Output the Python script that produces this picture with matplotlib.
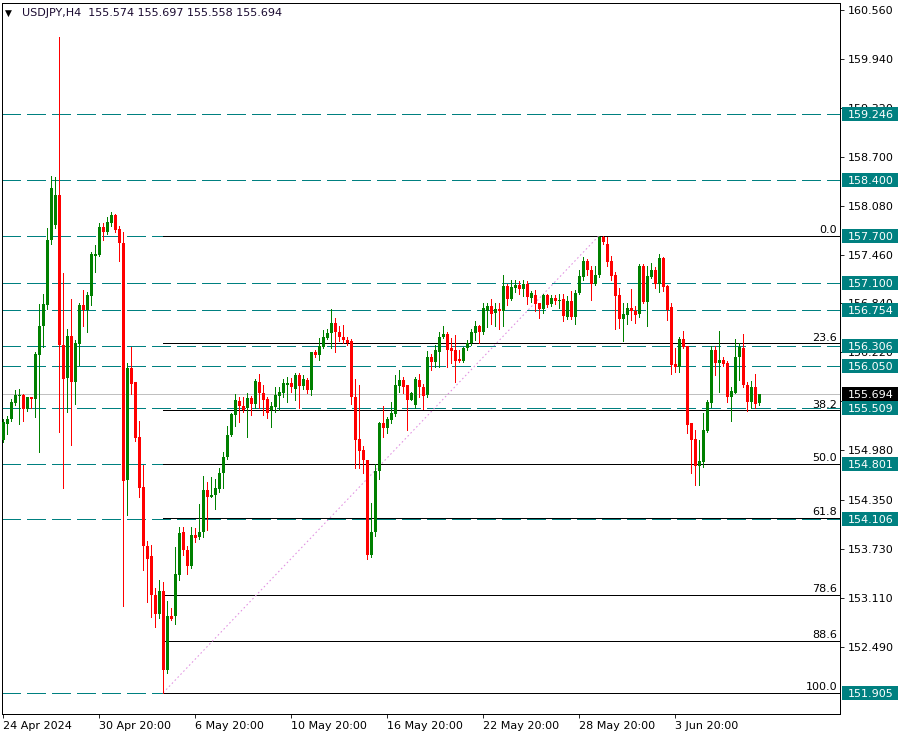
import matplotlib
matplotlib.use("Agg")
import matplotlib.pyplot as plt
from matplotlib.patches import Rectangle
from matplotlib.transforms import IdentityTransform

# --- Data (USDJPY, H4) --------------------------------------------------------

OPEN = [
    155.11, 155.31, 155.37, 155.58, 155.67, 155.68, 155.50, 155.65, 155.63, 156.19,
    156.56, 156.82, 157.64, 157.84, 158.21, 156.31, 155.89, 156.43, 155.84, 156.33,
    156.82, 156.76, 156.94, 157.44, 157.45, 157.81, 157.74, 157.86, 157.96, 157.78,
    157.61, 154.60, 156.02, 155.84, 155.15, 154.51, 153.77, 153.64, 153.14, 152.90,
    153.19, 152.19, 152.88, 152.88, 153.40, 153.94, 153.72, 153.51, 153.90, 153.88,
    153.94, 154.47, 154.39, 154.41, 154.49, 154.69, 154.89, 155.17, 155.43, 155.60,
    155.54, 155.51, 155.64, 155.57, 155.85, 155.70, 155.63, 155.49, 155.53, 155.67,
    155.71, 155.80, 155.83, 155.76, 155.93, 155.79, 155.87, 155.74, 156.22, 156.19,
    156.29, 156.40, 156.46, 156.59, 156.48, 156.41, 156.38, 156.36, 155.65, 155.12,
    154.98, 154.86, 153.65, 153.94, 154.72, 155.32, 155.26, 155.36, 155.44, 155.79,
    155.87, 155.80, 155.62, 155.55, 155.87, 155.78, 155.68, 156.16, 156.10, 156.23,
    156.41, 156.45, 156.27, 156.25, 156.13, 156.11, 156.27, 156.34, 156.46, 156.55,
    156.48, 156.74, 156.81, 156.72, 156.77, 156.75, 157.06, 156.90, 157.03, 157.08,
    157.02, 157.09, 156.91, 156.95, 156.84, 156.77, 156.95, 156.83, 156.91, 156.87,
    156.90, 156.67, 156.87, 156.67, 156.97, 157.17, 157.38, 157.26, 157.09, 157.20,
    157.68, 157.59, 157.38, 157.20, 156.95, 156.64, 156.69, 156.78, 156.75, 156.70,
    157.31, 156.86, 157.18, 157.27, 157.09, 157.41, 157.06, 156.80, 156.07, 156.04,
    156.39, 156.30, 155.32, 155.12, 154.78, 154.83, 155.22, 155.58, 156.25, 156.09,
    156.12, 156.08, 155.65, 155.71, 156.16, 156.28, 155.81, 155.59, 155.78, 155.574,
]
HIGH = [
    155.38, 155.41, 155.63, 155.74, 155.76, 155.69, 155.65, 155.65, 156.23, 156.83,
    156.96, 157.80, 158.46, 158.44, 160.22, 157.23, 156.52, 156.90, 156.38, 156.85,
    157.01, 156.99, 157.49, 157.58, 157.86, 157.86, 157.94, 158.00, 157.97, 157.82,
    157.75, 156.08, 156.29, 155.84, 155.35, 154.79, 153.83, 153.78, 153.23, 153.33,
    153.31, 153.07, 152.98, 153.75, 154.00, 154.00, 153.76, 154.00, 153.99, 154.30,
    154.65, 154.58, 154.64, 154.62, 154.75, 154.96, 155.28, 155.45, 155.69, 155.66,
    155.66, 155.70, 155.67, 155.88, 155.95, 155.81, 155.65, 155.59, 155.78, 155.78,
    155.88, 155.91, 155.89, 155.96, 155.96, 155.93, 155.90, 156.23, 156.25, 156.40,
    156.50, 156.51, 156.77, 156.65, 156.55, 156.57, 156.42, 156.39, 155.88, 155.81,
    155.03, 154.86, 154.31, 154.81, 155.34, 155.54, 155.40, 155.59, 155.93, 155.99,
    155.91, 155.81, 155.72, 155.91, 155.95, 155.82, 156.24, 156.20, 156.31, 156.48,
    156.55, 156.48, 156.40, 156.44, 156.25, 156.29, 156.38, 156.51, 156.62, 156.57,
    156.84, 156.85, 156.90, 156.84, 156.84, 157.20, 157.09, 157.14, 157.14, 157.13,
    157.14, 157.13, 157.00, 157.01, 156.85, 156.96, 156.96, 156.95, 156.95, 156.96,
    156.96, 156.93, 157.00, 157.01, 157.26, 157.43, 157.40, 157.31, 157.31, 157.70,
    157.69, 157.68, 157.44, 157.24, 157.03, 156.84, 156.84, 157.02, 156.81, 157.34,
    157.34, 157.31, 157.35, 157.30, 157.47, 157.43, 157.07, 156.84, 156.28, 156.41,
    156.49, 156.30, 155.32, 155.24, 155.11, 155.45, 155.62, 156.30, 156.30, 156.49,
    156.16, 156.11, 155.78, 156.39, 156.34, 156.45, 155.85, 155.86, 155.94, 155.697,
]
LOW = [
    155.08, 155.19, 155.35, 155.55, 155.31, 155.35, 155.48, 155.51, 155.40, 154.96,
    156.29, 156.77, 157.59, 157.80, 155.21, 154.50, 155.46, 155.05, 155.57, 156.06,
    156.56, 156.48, 156.82, 157.24, 157.44, 157.64, 157.72, 157.82, 157.75, 157.38,
    153.00, 154.16, 155.69, 155.10, 154.39, 153.46, 153.05, 152.87, 152.74, 152.85,
    151.905, 152.15, 152.83, 152.78, 153.33, 153.65, 153.41, 153.48, 153.81, 153.85,
    153.88, 153.97, 154.38, 154.23, 154.45, 154.50, 154.87, 155.16, 155.28, 155.34,
    155.46, 155.15, 155.43, 155.52, 155.51, 155.43, 155.39, 155.27, 155.46, 155.49,
    155.66, 155.59, 155.72, 155.62, 155.51, 155.76, 155.70, 155.68, 156.16, 156.12,
    156.27, 156.39, 156.28, 156.23, 156.36, 156.34, 156.31, 155.57, 154.75, 154.75,
    154.69, 153.60, 153.62, 153.89, 154.61, 155.15, 155.20, 155.33, 155.41, 155.72,
    155.71, 155.24, 155.61, 155.51, 155.66, 155.50, 155.65, 155.99, 156.04, 156.04,
    156.40, 156.03, 156.08, 155.85, 156.10, 156.10, 156.25, 156.31, 156.38, 156.34,
    156.45, 156.54, 156.58, 156.55, 156.52, 156.55, 156.82, 156.88, 156.99, 156.96,
    156.93, 156.83, 156.86, 156.74, 156.66, 156.72, 156.80, 156.81, 156.83, 156.78,
    156.62, 156.64, 156.64, 156.58, 156.96, 157.14, 157.20, 156.88, 157.07, 157.17,
    157.59, 157.31, 157.14, 156.52, 156.53, 156.37, 156.58, 156.63, 156.59, 156.67,
    156.84, 156.55, 157.16, 157.03, 156.99, 157.00, 156.63, 155.94, 155.97, 155.97,
    156.27, 155.20, 154.69, 154.54, 154.54, 154.77, 155.21, 155.53, 155.93, 155.72,
    156.05, 155.59, 155.35, 155.70, 155.87, 155.78, 155.48, 155.51, 155.51, 155.558,
]
CLOSE = [
    155.34, 155.37, 155.59, 155.68, 155.68, 155.50, 155.65, 155.63, 156.20, 156.56,
    156.83, 157.64, 158.30, 158.21, 156.31, 155.88, 156.43, 155.84, 156.34, 156.82,
    156.76, 156.95, 157.47, 157.47, 157.81, 157.74, 157.87, 157.96, 157.77, 157.61,
    154.59, 156.02, 155.82, 155.13, 154.50, 153.77, 153.60, 153.14, 152.90, 153.19,
    152.19, 152.88, 152.84, 153.41, 153.93, 153.72, 153.51, 153.90, 153.87, 153.94,
    154.47, 154.39, 154.41, 154.50, 154.69, 154.89, 155.17, 155.44, 155.62, 155.54,
    155.49, 155.64, 155.57, 155.86, 155.70, 155.62, 155.45, 155.54, 155.68, 155.72,
    155.83, 155.83, 155.78, 155.93, 155.79, 155.88, 155.74, 156.22, 156.19, 156.30,
    156.41, 156.47, 156.59, 156.48, 156.41, 156.38, 156.34, 155.65, 155.11, 154.97,
    154.85, 153.65, 153.94, 154.72, 155.32, 155.26, 155.38, 155.45, 155.81, 155.87,
    155.78, 155.62, 155.71, 155.88, 155.78, 155.67, 156.16, 156.10, 156.25, 156.42,
    156.45, 156.25, 156.24, 156.11, 156.11, 156.28, 156.34, 156.48, 156.55, 156.48,
    156.78, 156.81, 156.71, 156.77, 156.75, 157.06, 156.90, 157.05, 157.08, 157.02,
    157.09, 156.92, 156.97, 156.83, 156.77, 156.95, 156.82, 156.91, 156.87, 156.89,
    156.68, 156.87, 156.67, 156.97, 157.19, 157.38, 157.26, 157.09, 157.20, 157.68,
    157.62, 157.37, 157.19, 156.93, 156.64, 156.71, 156.78, 156.74, 156.69, 157.31,
    156.86, 157.19, 157.27, 157.09, 157.41, 157.05, 156.76, 156.06, 156.03, 156.39,
    156.29, 155.30, 155.11, 154.78, 154.84, 155.24, 155.59, 156.25, 156.09, 156.12,
    156.07, 155.65, 155.73, 156.16, 156.29, 155.80, 155.59, 155.78, 155.57, 155.694,
]

TIME_TICKS = [0, 24, 48, 72, 96, 120, 144, 168]
TIME_LABELS = ["24 Apr 2024", "30 Apr 20:00", "6 May 20:00", "10 May 20:00",
               "16 May 20:00", "22 May 20:00", "28 May 20:00", "3 Jun 20:00"]
PRICE_TICKS = [160.560, 159.940, 159.320, 158.700, 158.080, 157.460, 156.840,
               156.220, 155.600, 154.980, 154.350, 153.730, 153.110, 152.490]

# horizontal support / resistance levels (teal)
LEVELS = [159.246, 158.400, 157.700, 157.100, 156.754, 156.306, 156.050,
          155.509, 154.801, 154.106, 151.905]

# fibonacci retracement from the low bar to the high bar
FIB_LOW_BAR, FIB_HIGH_BAR = 40, 149
FIB_LOW, FIB_HIGH = 151.905, 157.700
FIB_RATIOS = [0.0, 23.6, 38.2, 50.0, 61.8, 78.6, 88.6, 100.0]

LAST_PRICE = 155.694
TITLE = "USDJPY,H4  155.574 155.697 155.558 155.694"

GREEN = "#008000"
RED = "#ff0000"
TEAL = "#008080"
LW = 0.6   # thin enough to draw as a single pixel without antialiasing

W, H = 904, 738

# --- Figure -------------------------------------------------------------------

fig = plt.figure(figsize=(W / 100, H / 100), dpi=100)
ax = fig.add_axes([2 / W, 24 / H, 838 / W, 711.3 / H])
ax.set_xlim(-0.325, 209.25)
ax.set_ylim(151.635, 160.653)

n = len(OPEN)
xs = list(range(n))
cols = [GREEN if CLOSE[i] >= OPEN[i] else RED for i in xs]
bottoms = [min(OPEN[i], CLOSE[i]) for i in xs]
heights = [max(abs(CLOSE[i] - OPEN[i]), 0.013) for i in xs]

ax.vlines(xs, LOW, HIGH, colors=cols, lw=LW, antialiased=False, zorder=4)
ax.bar(xs, heights, bottom=bottoms, width=0.76, color=cols, linewidth=0,
       antialiased=False, zorder=5)

# teal dashed levels over the full width
for lvl in LEVELS:
    ax.axhline(lvl, color=TEAL, lw=LW, ls=(0, (21.6, 7.2)), antialiased=False, zorder=2)

# last price line
ax.axhline(LAST_PRICE, color="#c0c0c0", lw=LW, antialiased=False, zorder=1)

# fibonacci levels
xmax = ax.get_xlim()[1]
rng = FIB_HIGH - FIB_LOW
for r in FIB_RATIOS:
    p = FIB_HIGH - r / 100 * rng
    ax.hlines(p, FIB_LOW_BAR, xmax, color="black", lw=LW, antialiased=False, zorder=3)
    ax.annotate(f"{r:.1f}", xy=(1, p), xycoords=("axes fraction", "data"),
                xytext=(-2, 0.5), textcoords="offset points", ha="right", va="bottom",
                fontsize=8, color="black")
ax.plot([FIB_LOW_BAR, FIB_HIGH_BAR], [FIB_LOW, FIB_HIGH], color="#e08ee0",
        lw=0.75, ls=(0, (1.5, 2.5)), zorder=3)

# axes styling
for s in ax.spines.values():
    s.set_linewidth(LW)
    s.set_color("black")
    s.set_antialiased(False)
ax.yaxis.tick_right()
ax.set_yticks(PRICE_TICKS)
ax.set_yticklabels([f"{p:.3f}" for p in PRICE_TICKS])
ax.tick_params(axis="y", direction="out", length=3, width=LW, pad=2.5,
               labelsize=8, colors="black")
ax.set_xticks(TIME_TICKS)
ax.set_xticklabels(TIME_LABELS)
for lab in ax.get_xticklabels():
    lab.set_ha("left")
ax.tick_params(axis="x", direction="out", length=3, width=LW, pad=2,
               labelsize=8, colors="black")

# price labels on the right scale (pixel coordinates)
ident = IdentityTransform()


def price_box(price, text, face):
    y = ax.transData.transform((0, price))[1]
    fig.add_artist(Rectangle((842, y - 7), 56, 14, transform=ident,
                             facecolor=face, edgecolor="none", zorder=2))
    fig.text(847.5, y, text, transform=ident, color="white", fontsize=8,
             ha="left", va="center_baseline", zorder=3)


for lvl in LEVELS:
    price_box(lvl, f"{lvl:.3f}", TEAL)
price_box(LAST_PRICE, f"{LAST_PRICE:.3f}", "black")

# title in the top-left corner
fig.text(5, H - 13, "\u25bc", transform=ident, fontsize=6.5, color="black",
         ha="left", va="center")
fig.text(21.5, H - 13, TITLE, transform=ident, fontsize=8, color="#1a0a30",
         ha="left", va="center")

fig.savefig("out.png", dpi=100)
